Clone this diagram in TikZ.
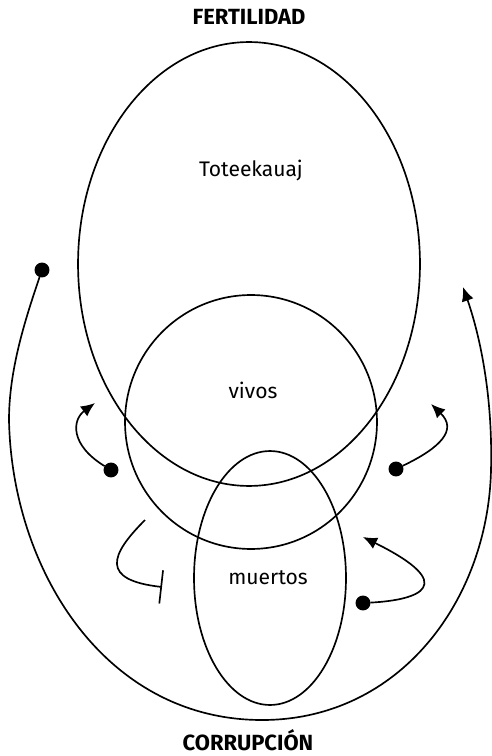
\documentclass[tikz,border=0pt]{standalone}
\usepackage{fontspec}
\setmainfont{Fira Sans}
\usetikzlibrary{arrows.meta,shapes.geometric}

\begin{document}
\begin{tikzpicture}[
    x=0.02cm, y=-0.02cm,
    line width=0.95pt,
    zone/.style={draw, ellipse, inner sep=0, outer sep=0},
    pole/.style={font=\bfseries\fontsize{12.5}{14}\selectfont},
    tag/.style={font=\fontsize{12}{14}\selectfont},
    dot/.style={circle, fill, inner sep=0, outer sep=0, minimum size=8.5pt},
    flow/.style={-{Latex[length=8pt,width=7pt]}},
    block/.style={-{Bar[width=19pt]}}]
\useasboundingbox (0,0) rectangle (491,756);

\node[zone, minimum width=6.84cm, minimum height=8.88cm] (toteekauaj) at (249,264) {};
\node[zone, minimum width=5.04cm, minimum height=5.08cm] (vivos) at (251,422) {};
\node[zone, minimum width=3.04cm, minimum height=5.08cm] (muertos) at (270,578) {};

\node[pole] (fertilidad) at (249,17) {FERTILIDAD};
\node[pole] (corrupcion) at (248,740) {CORRUPCIÓN};
\node[tag] (toteekauaj-t) at (251,171) {Toteekauaj};
\node[tag] (vivos-t) at (253,390) {vivos};
\node[tag] (muertos-t) at (268,578) {muertos};

\node[dot] (outer-s) at (42,270) {};
\node[dot] (left-s) at (111,470) {};
\node[dot] (right-s) at (396,469) {};
\node[dot] (low-s) at (363,603) {};
\coordinate (outer-e) at (463,287);
\coordinate (left-e) at (95,403);
\coordinate (right-e) at (431,404);
\coordinate (low-e) at (363,537);
\coordinate (cut-s) at (145,520);
\coordinate (cut-e) at (162,587);

\draw[flow] (outer-s) .. controls (25,320) and (9,370) .. (9,420)
    .. controls (12,570) and (105,720) .. (262,720)
    .. controls (400,720) and (488,600) .. (491,470)
    .. controls (493,390) and (478,330) .. (outer-e);
\draw[flow] (left-s) .. controls (70,445) and (72,420) .. (left-e);
\draw[flow] (right-s) .. controls (440,448) and (458,430) .. (right-e);
\draw[flow] (low-s) .. controls (420,600) and (460,585) .. (low-e);
\draw[block] (cut-s) .. controls (110,555) and (100,580) .. (cut-e);
\end{tikzpicture}
\end{document}
